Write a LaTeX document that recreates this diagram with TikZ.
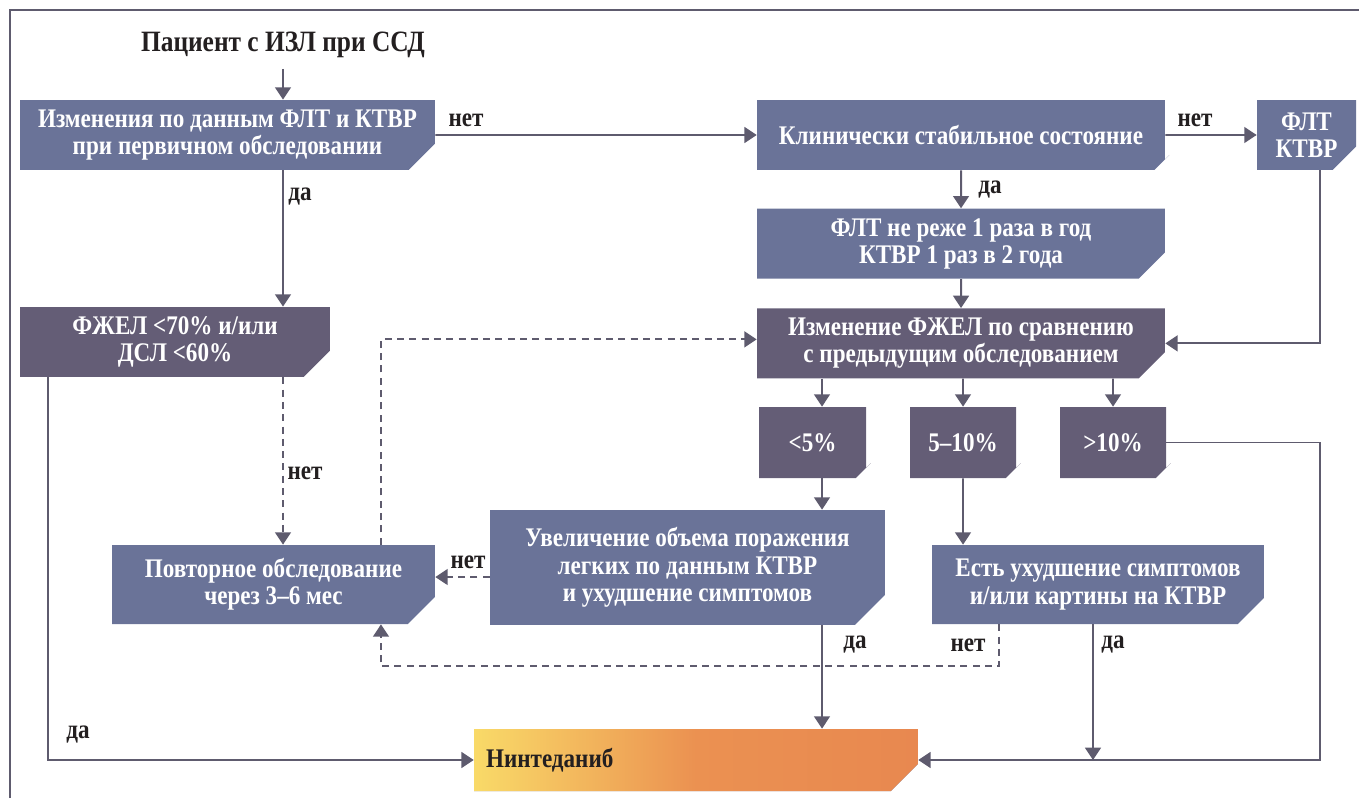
\documentclass[tikz,border=0pt]{standalone}
\usepackage{fontspec}
\setmainfont{Liberation Serif}[FakeStretch=0.86]
\usetikzlibrary{shapes.misc,arrows.meta,positioning}
\definecolor{boxblue}{RGB}{106,115,152}
\definecolor{boxdark}{RGB}{100,93,118}
\definecolor{linegray}{RGB}{94,91,110}
\definecolor{nyellow}{RGB}{249,218,104}
\definecolor{nmid}{RGB}{235,145,81}
\definecolor{norange}{RGB}{232,136,80}
\definecolor{txt}{RGB}{35,31,32}

\begin{document}
\begin{tikzpicture}[
    x=0.02cm, y=-0.02cm,
    font=\bfseries\fontsize{15.3}{15.5}\selectfont,
    block/.style={chamfered rectangle, chamfered rectangle corners=south east,
      chamfered rectangle xsep=0.3cm, chamfered rectangle ysep=0.3cm,
      fill=boxblue, text=white, align=center, inner xsep=0pt, inner ysep=-8pt},
    dblock/.style={block, fill=boxdark},
    lbl/.style={text=txt, inner sep=0pt},
    line/.style={draw=linegray, line width=1.1pt, -{Triangle[length=7pt,width=9pt]}},
    dline/.style={line, dash pattern=on 4pt off 3pt},
  ]
    \useasboundingbox (0,0) rectangle (1359,798);
    \draw[linegray, line width=0.6pt] (10,798) -- (10,10) -- (1359,10);

    \node [lbl, inner sep=6pt, font=\bfseries\fontsize{16.8}{18}\selectfont] (title) at (283,45)
      {Пациент с ИЗЛ при ССД};
    \node [block, minimum width=8.3cm, minimum height=1.4cm] (first) at (227.5,135)
      {Изменения по данным ФЛТ и КТВР\\при первичном обследовании};
    \node [block, minimum width=8.16cm, minimum height=1.4cm] (stable) at (961,135)
      {Клинически стабильное состояние};
    \node [block, minimum width=1.98cm, minimum height=1.4cm] (flt) at (1306.5,135)
      {ФЛТ\\КТВР};
    \node [block, minimum width=8.16cm, minimum height=1.4cm, below=0.76cm of stable] (plan)
      {ФЛТ не реже 1 раза в год\\КТВР 1 раз в 2 года};
    \node [dblock, minimum width=8.16cm, minimum height=1.4cm, below=0.58cm of plan] (fvc)
      {Изменение ФЖЕЛ по сравнению\\с предыдущим обследованием};
    \node [dblock, minimum width=6.2cm, minimum height=1.4cm] (low) at (175,342)
      {ФЖЕЛ <70\% и/или\\ДСЛ <60\%};
    \node [dblock, minimum width=2.14cm, minimum height=1.42cm] (lt5) at (812.5,442.5) {<5\%};
    \node [dblock, minimum width=2.12cm, minimum height=1.42cm] (mid) at (963,442.5) {5–10\%};
    \node [dblock, minimum width=2.12cm, minimum height=1.42cm] (gt10) at (1113,442.5) {>10\%};
    \node [block, minimum width=6.46cm, minimum height=1.58cm] (repeat) at (273.5,584.5)
      {Повторное обследование\\через 3–6 мес};
    \node [block, minimum width=7.9cm, minimum height=2.3cm] (volume) at (687.5,567.5)
      {Увеличение объема поражения\\легких по данным КТВР\\и ухудшение симптомов};
    \node [block, minimum width=6.64cm, minimum height=1.58cm] (worse) at (1098,584.5)
      {Есть ухудшение симптомов\\и/или картины на КТВР};
    \node [block, inner ysep=0pt, text width=8.4cm, minimum height=1.24cm, align=left, text=txt,
      left color=nyellow, right color=norange, middle color=nmid] (drug) at (696,760)
      {Нинтеданиб};

    \node [lbl] (no1) at (466,120) {нет};
    \node [lbl] (no2) at (1195,120) {нет};
    \node [lbl] (yes1) at (990,190) {да};
    \node [lbl] (yes2) at (300,197) {да};
    \node [lbl] (no3) at (305,473) {нет};
    \node [lbl] (no4) at (468,562) {нет};
    \node [lbl] (yes3) at (855,645) {да};
    \node [lbl] (no5) at (968,645) {нет};
    \node [lbl] (yes4) at (1113,645) {да};
    \node [lbl] (yes5) at (78,735) {да};

    \path [line] (title) -- (title |- first.north);
    \path [line] (first) -- (stable);
    \path [line] (stable) -- (flt);
    \path [line] (stable) -- (plan);
    \path [line] (plan) -- (fvc);
    \path [line] ([xshift=0.27cm]flt.south) |- (fvc.east);
    \path [line] (title |- first.south) -- (title |- low.north);
    \path [dline] (title |- low.south) -- (title |- repeat.north);
    \path [dline] ([xshift=2.15cm]repeat.north) |- ([yshift=0.08cm]fvc.west);
    \path [line] ([xshift=0.19cm]lt5.north |- fvc.south) -- ([xshift=0.19cm]lt5.north);
    \path [line] (mid |- fvc.south) -- (mid);
    \path [line] (gt10 |- fvc.south) -- (gt10);
    \path [line] ([xshift=0.19cm]lt5.south) -- ([xshift=0.19cm]lt5.south |- volume.north);
    \path [line] (mid) -- (mid |- worse.north);
    \path [dline] ([yshift=-0.19cm]volume.west) -- ([yshift=-0.19cm]volume.west -| repeat.east);
    \path [line] ([xshift=0.19cm]lt5.south |- volume.south) -- ([xshift=0.19cm]lt5.south |- drug.north);
    \path [dline] ([xshift=-1.98cm]worse.south) -- ++(0,42) -| ([xshift=2.15cm]repeat.south);
    \path [line] ([xshift=-0.1cm]worse.south) -- ([xshift=-0.1cm]worse.south |- drug.east);
    \path [line] (gt10.east) -| ([xshift=0.27cm]flt.south |- drug.east) -- (drug.east);
    \path [line] ([xshift=-2.54cm]low.south) |- (drug.west);
\end{tikzpicture}
\end{document}
